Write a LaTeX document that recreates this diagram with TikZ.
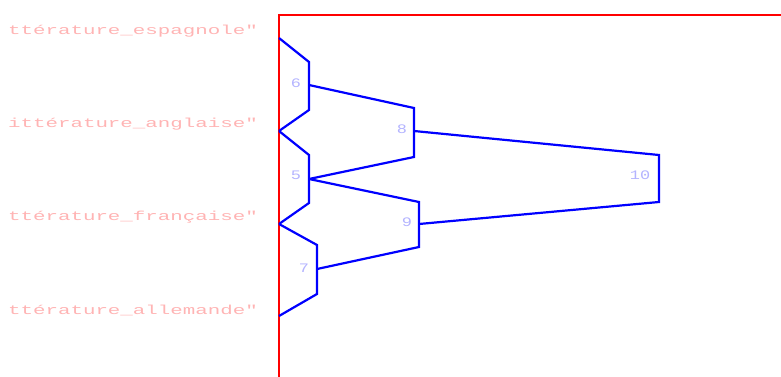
\documentclass[tikz,border=0pt]{standalone}
\usepackage{fontspec}
\newfontfamily\monofont{Liberation Mono}
\definecolor{leafpink}{HTML}{FFB4B4}
\definecolor{labblue}{HTML}{B4B4FF}
\definecolor{axred}{HTML}{FF0000}
\definecolor{linkblue}{HTML}{0000FF}
\tikzset{
  axis/.style={draw=axred, line width=2pt},
  link/.style={draw=linkblue, line width=2.2pt, line join=miter},
  leaflab/.style={anchor=east, inner sep=0pt, text=leafpink, font=\monofont\fontsize{13}{13}\selectfont},
  numlab/.style={inner sep=0pt, text=labblue, font=\monofont\fontsize{13}{13}\selectfont}
}
\begin{document}
\begin{tikzpicture}[x=1pt,y=-1pt]
\useasboundingbox (0,0) rectangle (781,377);
% axis
\coordinate (axtop) at (279,15);
\coordinate (axbot) at (279,377);
\coordinate (axright) at (781,15);
\draw[axis] (axbot) -- (axtop) -- (axright);
% leaves
\coordinate (le) at (279,38);
\coordinate (la) at (279,131);
\coordinate (lf) at (279,224);
\coordinate (lm) at (279,316);
\node[leaflab] (te) at (258,31) {\scalebox{1.6}[1]{ttérature\_espagnole"}};
\node[leaflab] (ta) at (258,124) {\scalebox{1.6}[1]{ittérature\_anglaise"}};
\node[leaflab] (tf) at (258,217) {\scalebox{1.6}[1]{ttérature\_française"}};
\node[leaflab] (tm) at (258,310) {\scalebox{1.6}[1]{ttérature\_allemande"}};
% internal nodes
\coordinate (n6t) at (309,62);  \coordinate (n6b) at (309,110); \coordinate (n6m) at (309,85);
\coordinate (n5t) at (309,155); \coordinate (n5b) at (309,203); \coordinate (n5m) at (309,179);
\coordinate (n7t) at (317,245); \coordinate (n7b) at (317,294); \coordinate (n7m) at (317,269);
\coordinate (n8t) at (414,108); \coordinate (n8b) at (414,157); \coordinate (n8m) at (414,131);
\coordinate (n9t) at (419,202); \coordinate (n9b) at (419,247); \coordinate (n9m) at (419,224);
\coordinate (n10t) at (659,155); \coordinate (n10b) at (659,202);
% links
\draw[link] (le) -- (n6t) -- (n6b) -- (la);
\draw[link] (la) -- (n5t) -- (n5b) -- (lf);
\draw[link] (lf) -- (n7t) -- (n7b) -- (lm);
\draw[link] (n6m) -- (n8t) -- (n8b) -- (n5m);
\draw[link] (n5m) -- (n9t) -- (n9b) -- (n7m);
\draw[link] (n8m) -- (n10t) -- (n10b) -- (n9m);
% labels
\node[numlab] (l6) at (296,83) {\scalebox{1.3}[1]{6}};
\node[numlab] (l5) at (296,175) {\scalebox{1.3}[1]{5}};
\node[numlab] (l7) at (304,268) {\scalebox{1.3}[1]{7}};
\node[numlab] (l8) at (402,129) {\scalebox{1.3}[1]{8}};
\node[numlab] (l9) at (407,222) {\scalebox{1.3}[1]{9}};
\node[numlab] (l10) at (640,175) {\scalebox{1.3}[1]{10}};
\end{tikzpicture}
\end{document}
